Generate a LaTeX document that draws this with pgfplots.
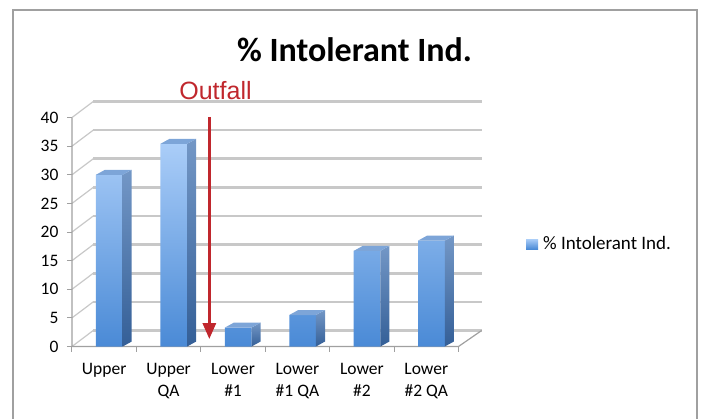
\documentclass[border=0pt]{standalone}
\usepackage{pgfplots}
\pgfplotsset{compat=1.18}
\usepackage{fontspec}
\setmainfont{Carlito}
\newfontfamily\arialfont{Liberation Sans}
\usetikzlibrary{arrows.meta}
\definecolor{barTop}{HTML}{AACDF8}
\definecolor{barBot}{HTML}{4A8AD6}
\definecolor{sideTop}{HTML}{7397C6}
\definecolor{sideBot}{HTML}{345F97}
\definecolor{topFace}{HTML}{7DA5D8}
\definecolor{gridc}{HTML}{C8C8C8}
\definecolor{axc}{HTML}{A0A0A0}
\definecolor{arrowred}{HTML}{C0272D}
\begin{document}
\begin{tikzpicture}[x=1pt,y=1pt]
\useasboundingbox (0,0) rectangle (702,418);
\draw[color=axc, line width=1.3pt] (13,-5) -- (13,408) -- (697,408) -- (697,-5);
\node[font=\fontsize{34}{36}\selectfont\bfseries, anchor=base] at (354.5,356.3) {\% Intolerant Ind.};
\begin{axis}[
  at={(72pt,71.5pt)}, anchor=south west,
  scale only axis, width=409.7pt, height=245pt,
  xmin=-0.5, xmax=5.86, ymin=0, ymax=42.8,
  axis line style={draw=none},
  clip=false,
  ytick={0,5,10,15,20,25,30,35,40}, ytick pos=left,
  xtick={-0.5,0.5,1.5,2.5,3.5,4.5,5.5}, xticklabels={}, xtick pos=left,
  extra x ticks={0,1,2,3,4,5},
  extra x tick labels={Upper,{Upper\\QA},{Lower\\\#1},{Lower\\\#1 QA},{Lower\\\#2},{Lower\\\#2 QA}},
  extra x tick style={major tick length=0pt},
  tick align=outside, major tick length=5pt,
  tick style={color=axc, line width=1pt},
  xticklabel style={align=center, font=\fontsize{17.5}{22}\selectfont, yshift=-13pt},
  yticklabel style={font=\fontsize{17.5}{21}\selectfont, xshift=-5pt},
  /pgf/number format/assume math mode=true,
  legend style={at={(1.108,0.418)}, anchor=west, draw=none, fill=none,
    font=\fontsize{19}{21}\selectfont, inner sep=0pt,
    /tikz/every odd column/.append style={column sep=3pt}},
  legend image code/.code={\fill[top color=barTop,bottom color=barBot] (0pt,-5pt) rectangle (12pt,5pt);},
]
% left wall diagonals
\draw[gridc, line width=1.2pt] (axis cs:-0.5,0) -- (axis cs:-0.17,2.8);
\draw[gridc, line width=1.2pt] (axis cs:-0.5,5) -- (axis cs:-0.17,7.8);
\draw[gridc, line width=1.2pt] (axis cs:-0.5,10) -- (axis cs:-0.17,12.8);
\draw[gridc, line width=1.2pt] (axis cs:-0.5,15) -- (axis cs:-0.17,17.8);
\draw[gridc, line width=1.2pt] (axis cs:-0.5,20) -- (axis cs:-0.17,22.8);
\draw[gridc, line width=1.2pt] (axis cs:-0.5,25) -- (axis cs:-0.17,27.8);
\draw[gridc, line width=1.2pt] (axis cs:-0.5,30) -- (axis cs:-0.17,32.8);
\draw[gridc, line width=1.2pt] (axis cs:-0.5,35) -- (axis cs:-0.17,37.8);
\draw[gridc, line width=1.2pt] (axis cs:-0.5,40) -- (axis cs:-0.17,42.8);
% back wall grid lines
\draw[gridc, line width=2.6pt] (axis cs:-0.17,2.8) -- (axis cs:5.86,2.8);
\draw[gridc, line width=2.6pt] (axis cs:-0.17,7.8) -- (axis cs:5.86,7.8);
\draw[gridc, line width=2.6pt] (axis cs:-0.17,12.8) -- (axis cs:5.86,12.8);
\draw[gridc, line width=2.6pt] (axis cs:-0.17,17.8) -- (axis cs:5.86,17.8);
\draw[gridc, line width=2.6pt] (axis cs:-0.17,22.8) -- (axis cs:5.86,22.8);
\draw[gridc, line width=2.6pt] (axis cs:-0.17,27.8) -- (axis cs:5.86,27.8);
\draw[gridc, line width=2.6pt] (axis cs:-0.17,32.8) -- (axis cs:5.86,32.8);
\draw[gridc, line width=2.6pt] (axis cs:-0.17,37.8) -- (axis cs:5.86,37.8);
\draw[gridc, line width=2.6pt] (axis cs:-0.17,42.8) -- (axis cs:5.86,42.8);
% floor and axis lines
\draw[axc, line width=1.2pt] (axis cs:-0.5,40) -- (axis cs:-0.5,0) -- (axis cs:5.5,0) -- (axis cs:5.86,2.8);
% bars (front faces)
\addplot[ybar, bar width=0.415, bar shift=0.08, draw=none, top color=barTop, bottom color=barBot]
  coordinates {(0,30) (1,35.4) (2,3.3) (3,5.5) (4,16.7) (5,18.5)};
\addlegendentry{\% Intolerant Ind.}
% side faces
\addplot[forget plot, draw=none, top color=sideTop, bottom color=sideBot] coordinates {(0.2875,0) (0.2875,30) (0.4275,30.87) (0.4275,0.87)} -- cycle;
\addplot[forget plot, draw=none, top color=sideTop, bottom color=sideBot] coordinates {(1.2875,0) (1.2875,35.4) (1.4275,36.27) (1.4275,0.87)} -- cycle;
\addplot[forget plot, draw=none, top color=sideTop, bottom color=sideBot] coordinates {(2.2875,0) (2.2875,3.3) (2.4275,4.17) (2.4275,0.87)} -- cycle;
\addplot[forget plot, draw=none, top color=sideTop, bottom color=sideBot] coordinates {(3.2875,0) (3.2875,5.5) (3.4275,6.37) (3.4275,0.87)} -- cycle;
\addplot[forget plot, draw=none, top color=sideTop, bottom color=sideBot] coordinates {(4.2875,0) (4.2875,16.7) (4.4275,17.57) (4.4275,0.87)} -- cycle;
\addplot[forget plot, draw=none, top color=sideTop, bottom color=sideBot] coordinates {(5.2875,0) (5.2875,18.5) (5.4275,19.37) (5.4275,0.87)} -- cycle;
% top faces
\addplot[forget plot, draw=none, fill=topFace] coordinates {(-0.1275,30) (0.2875,30) (0.4275,30.87) (0.0125,30.87)} -- cycle;
\addplot[forget plot, draw=none, fill=topFace] coordinates {(0.8725,35.4) (1.2875,35.4) (1.4275,36.27) (1.0125,36.27)} -- cycle;
\addplot[forget plot, draw=none, fill=topFace] coordinates {(1.8725,3.3) (2.2875,3.3) (2.4275,4.17) (2.0125,4.17)} -- cycle;
\addplot[forget plot, draw=none, fill=topFace] coordinates {(2.8725,5.5) (3.2875,5.5) (3.4275,6.37) (3.0125,6.37)} -- cycle;
\addplot[forget plot, draw=none, fill=topFace] coordinates {(3.8725,16.7) (4.2875,16.7) (4.4275,17.57) (4.0125,17.57)} -- cycle;
\addplot[forget plot, draw=none, fill=topFace] coordinates {(4.8725,18.5) (5.2875,18.5) (5.4275,19.37) (5.0125,19.37)} -- cycle;
% outfall arrow
\draw[arrowred, line width=3pt, -{Triangle[length=16pt,width=13pt]}] (axis cs:1.632,40.1) -- (axis cs:1.632,1.3);
\end{axis}
\node[text=arrowred, font=\arialfont\fontsize{25}{28}\selectfont, anchor=base] at (215.5,318) {Outfall};
\end{tikzpicture}
\end{document}
